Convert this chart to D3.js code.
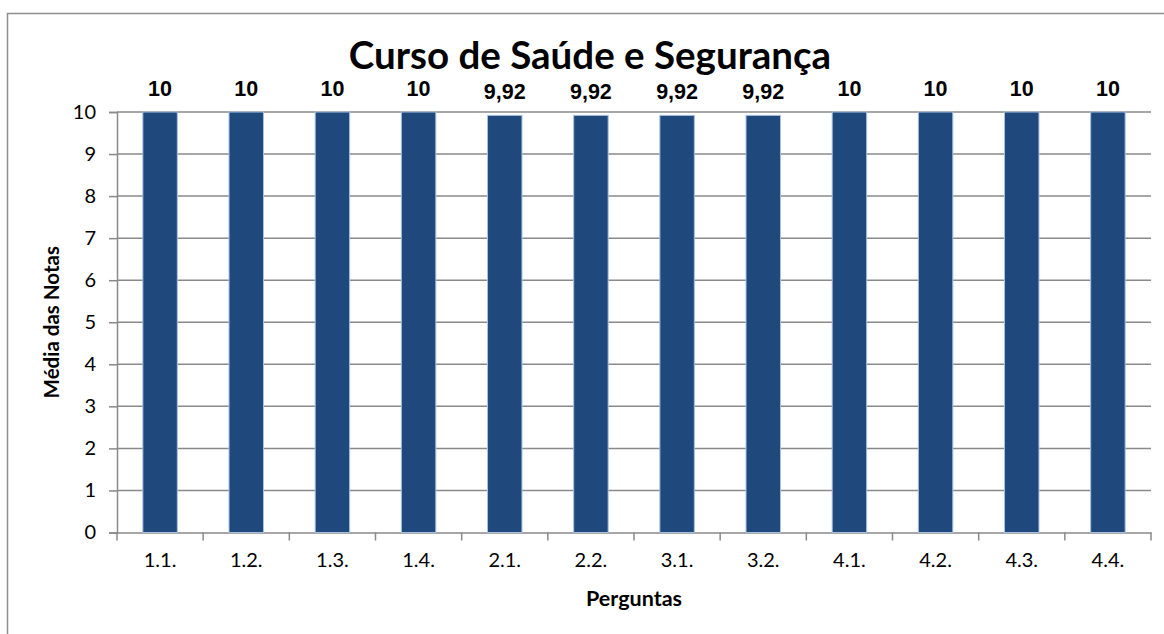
<!DOCTYPE html>
<html><head><meta charset="utf-8">
<script src="https://cdn.jsdelivr.net/npm/d3@7"></script>
<style>body{margin:0;background:#fff;} svg{display:block;}</style>
</head><body>
<svg id="c" width="1164" height="634"></svg>
<script>
const categories = ["1.1.","1.2.","1.3.","1.4.","2.1.","2.2.","3.1.","3.2.","4.1.","4.2.","4.3.","4.4."];
const values = [10,10,10,10,9.92,9.92,9.92,9.92,10,10,10,10];
const valueLabels = ["10","10","10","10","9,92","9,92","9,92","9,92","10","10","10","10"];
const yTicks = [0,1,2,3,4,5,6,7,8,9,10];
const title = "Curso de Saúde e Segurança";
const yTitle = "Média das Notas";
const xTitle = "Perguntas";

const svg = d3.select("#c");
const W = 1164, H = 634;
const m = {left:117, right:1151, top:112, bottom:532.5};
const grid = "#8a8a8a";
const calibri = "Lato, 'Open Sans', sans-serif";

// outer chart border
svg.append("path").attr("d", `M7.5,${H} V13.5 H${W}`).attr("fill","none").attr("stroke","#8e8e8e").attr("stroke-width",1.5);

const x = d3.scaleBand().domain(categories).range([m.left, m.right]).paddingInner(0.6).paddingOuter(0.3);
const xb = d3.scaleBand().domain(categories).range([m.left, m.right]);
const y = d3.scaleLinear().domain([0,10]).range([m.bottom, m.top]);

// gridlines
svg.append("g").selectAll("line").data(yTicks.filter(d=>d>0)).join("line")
  .attr("x1", m.left).attr("x2", m.right).attr("y1", d=>y(d)).attr("y2", d=>y(d))
  .attr("stroke", grid).attr("stroke-width",1.5);

// y axis
const ya = svg.append("g").attr("transform",`translate(${m.left},0)`)
  .call(d3.axisLeft(y).tickValues(yTicks).tickSize(8).tickPadding(13).tickFormat(d3.format("d")));
ya.select(".domain").attr("stroke",grid).attr("stroke-width",1.5);
ya.selectAll(".tick line").attr("stroke",grid).attr("stroke-width",1.5);
ya.selectAll(".tick text").attr("font-family",calibri).attr("font-size",20).attr("fill","#000");

// x axis
const xa = svg.append("g").attr("transform",`translate(0,${m.bottom})`)
  .call(d3.axisBottom(xb).tickSize(0).tickPadding(20));
xa.select(".domain").attr("stroke",grid).attr("stroke-width",1.5);
xa.selectAll(".tick text").attr("font-family",calibri).attr("font-size",20).attr("fill","#000");
// tick marks at band boundaries
const bounds = categories.map(c=>xb(c)).concat([xb(categories[categories.length-1])+xb.bandwidth()]);
svg.append("g").selectAll("line").data(bounds).join("line")
  .attr("x1",d=>d).attr("x2",d=>d).attr("y1",m.bottom).attr("y2",m.bottom+8)
  .attr("stroke",grid).attr("stroke-width",1.5);

// bars
svg.append("g").selectAll("rect").data(values).join("rect")
  .attr("x",(d,i)=>x(categories[i])).attr("width",x.bandwidth())
  .attr("y",d=>y(d)).attr("height",d=>y(0)-y(d))
  .attr("fill","#1f497d").attr("stroke","#a9c1e0").attr("stroke-width",1);

// data labels
svg.append("g").selectAll("text").data(values).join("text")
  .attr("x",(d,i)=>x(categories[i])+x.bandwidth()/2).attr("y",d=>y(d)-16)
  .attr("text-anchor","middle").attr("font-family","'Liberation Sans', Arial, sans-serif")
  .attr("font-weight","bold").attr("font-size",21.5).attr("fill","#000")
  .text((d,i)=>valueLabels[i]);

// title
svg.append("text").attr("x",590).attr("y",69).attr("text-anchor","middle")
  .attr("font-family",calibri).attr("font-weight","bold").attr("font-size",38.5).attr("fill","#000").text(title);

// axis titles
svg.append("text").attr("transform",`translate(59,${(m.top+m.bottom)/2}) rotate(-90)`)
  .attr("text-anchor","middle").attr("font-family",calibri).attr("font-weight","bold").attr("font-size",20.5).attr("fill","#000").text(yTitle);
svg.append("text").attr("x",(m.left+m.right)/2).attr("y",606).attr("text-anchor","middle")
  .attr("font-family",calibri).attr("font-weight","bold").attr("font-size",21.5).attr("fill","#000").text(xTitle);
</script>
</body></html>
